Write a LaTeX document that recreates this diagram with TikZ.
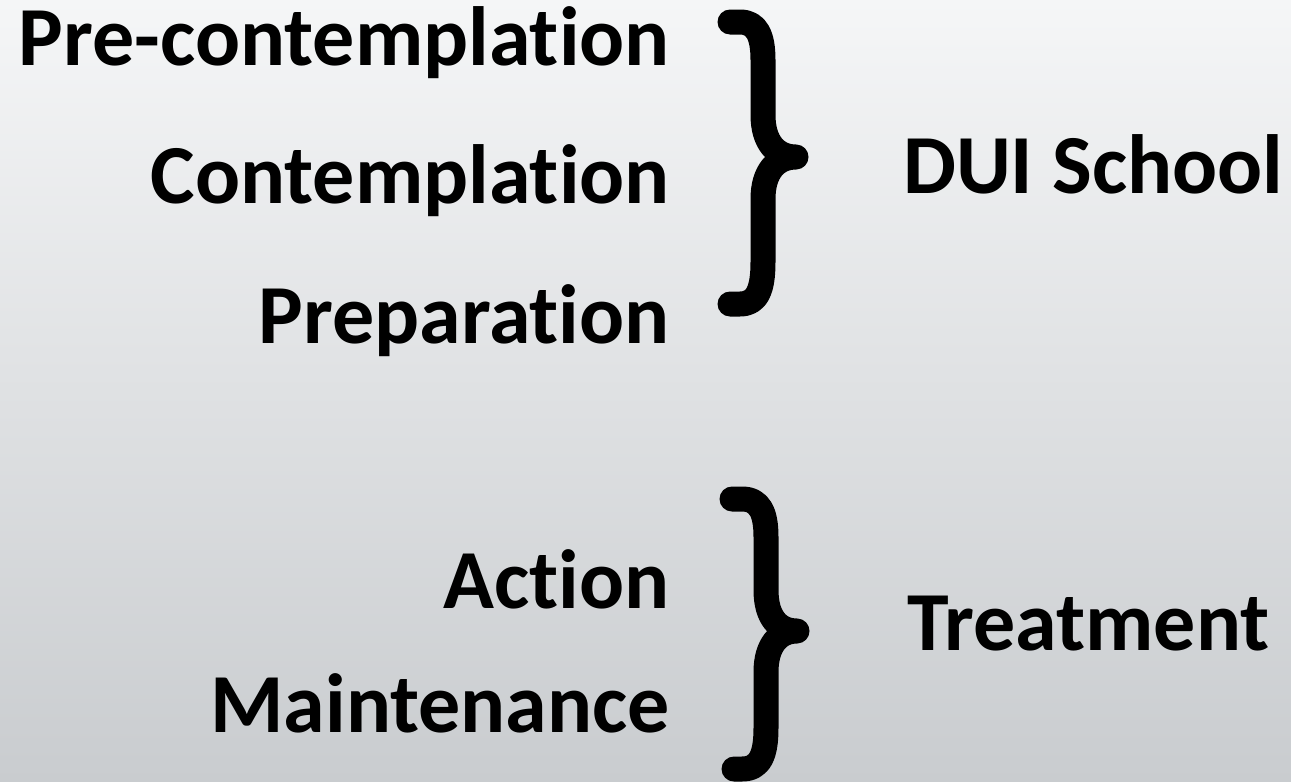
\documentclass[tikz,border=0pt]{standalone}
\usepackage{fontspec}
\setmainfont[RawFeature=-liga]{Carlito}
\definecolor{bgtop}{HTML}{F5F6F7}
\definecolor{bgbot}{HTML}{C9CCCF}
\begin{document}
\begin{tikzpicture}[x=1pt, y=-1pt, line join=round, line cap=round,
	stage/.style={anchor=base east, inner sep=0pt, font=\fontsize{84}{100}\selectfont\bfseries},
	group/.style={anchor=base west, inner sep=0pt, font=\fontsize{84}{100}\selectfont\bfseries},
	curly/.style={line width=25pt}]
	\shade[top color=bgtop, bottom color=bgbot] (0,0) rectangle (1291,782);
	\useasboundingbox (0,0) rectangle (1291,782);
	% stages, right aligned
	\node[stage] (precon) at (670,65) {Pre-contemplation};
	\node[stage] (contem) at (670,203) {Contemplation};
	\node[stage] (prep) at (670,343) {Preparation};
	\node[stage] (action) at (670,608) {Action};
	\node[stage] (maint) at (670,732) {Maintenance};
	% groups
	\node[group] (school) at (903,193) {DUI School};
	\node[group] (treat) at (907,650) {Treatment};
	% braces
	\draw[curly] (730,22) -- (740,22) .. controls (757,22) and (763,36) .. (763,60) -- (763,115)
		.. controls (763,142) and (776,157) .. (796,157)
		.. controls (776,157) and (763,172) .. (763,199) -- (763,262)
		.. controls (763,290) and (757,304) .. (740,304) -- (730,304);
	\draw[curly] (732,499) -- (742,499) .. controls (760,499) and (766,513) .. (766,537) -- (766,590)
		.. controls (766,617) and (778,631) .. (797,631)
		.. controls (778,631) and (766,646) .. (766,672) -- (766,728)
		.. controls (766,755) and (760,769) .. (742,769) -- (734,769);
\end{tikzpicture}
\end{document}
